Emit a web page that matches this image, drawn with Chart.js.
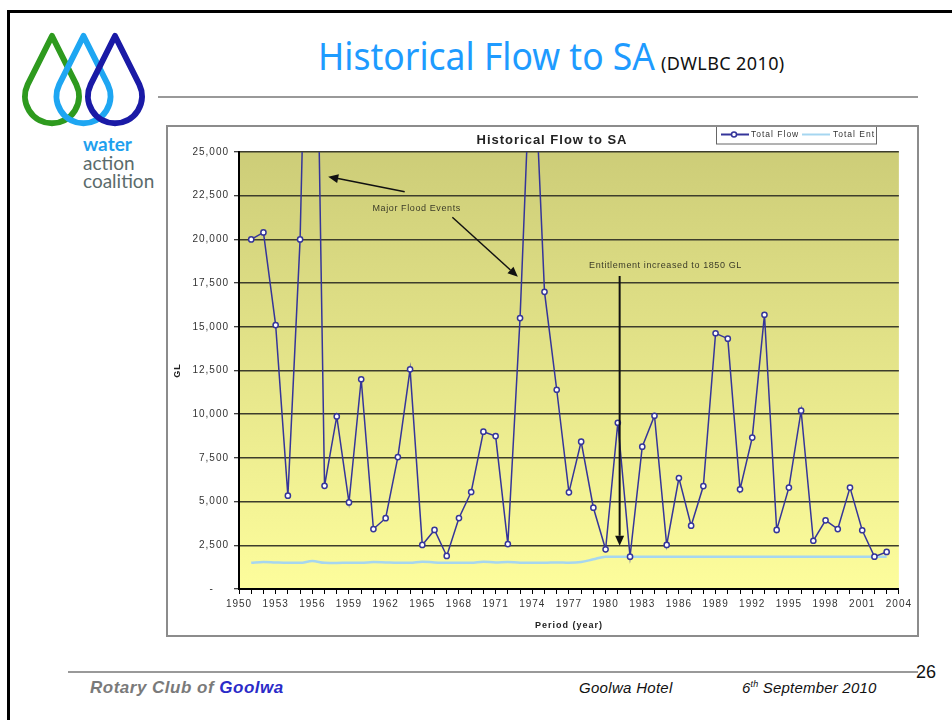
<!DOCTYPE html>
<html>
<head>
<meta charset="utf-8">
<title>Historical Flow to SA</title>
<script src="https://cdn.jsdelivr.net/npm/chart.js@4.4.1/dist/chart.umd.min.js"></script>
<style>
  html, body { margin: 0; padding: 0; background: #fff; }
  .slide { position: relative; width: 952px; height: 720px; overflow: hidden; font-family: "Liberation Sans", Arial, sans-serif; }
  .frame-top { position: absolute; left: 7px; top: 10px; width: 945px; height: 3px; background: #000; }
  .frame-left { position: absolute; left: 7px; top: 10px; width: 3px; height: 710px; background: #000; }
  .logo { position: absolute; left: 0; top: 0; }
  .brand { position: absolute; left: 83px; font-family: Lato, "Open Sans", sans-serif; font-size: 19px; line-height: 19px; color: #5b6b6b; }
  .brand.water { color: #1ea0ee; font-weight: bold; }
  .heading { position: absolute; left: 318px; top: 36px; white-space: nowrap; line-height: 1; transform-origin: 0 0; }
  .heading .main { font-family: "Noto Sans", sans-serif; font-size: 38px; color: #1e9bff; }
  .heading .src { font-family: "Noto Sans", sans-serif; font-size: 18px; color: #111; margin-left: 6px; letter-spacing: 0.4px; }
  .rule { position: absolute; height: 2px; background: #999; }
  .chart-box { position: absolute; left: 166px; top: 125px; width: 753px; height: 512px; box-sizing: border-box; border: 2px solid #8c8c8c; }
  .chart-wrap { position: absolute; left: 168px; top: 127px; width: 748px; height: 507px; }
  .foot { position: absolute; white-space: nowrap; font-style: italic; }
  .club { left: 90px; top: 678px; font-size: 17px; font-weight: bold; color: #7a7a7a; letter-spacing: 0.5px; }
  .club b { color: #2b2bc8; }
  .venue { left: 579px; top: 679px; font-size: 15px; color: #111; letter-spacing: 0.3px; }
  .date { left: 742px; top: 679px; font-size: 15px; color: #111; letter-spacing: 0.2px; }
  .date sup { font-size: 9px; }
  .page { position: absolute; left: 916px; top: 662px; font-size: 18px; color: #111; }
</style>
</head>
<body>
<div class="slide">
  <div class="frame-top"></div>
  <div class="frame-left"></div>

  <svg class="logo" width="160" height="135" viewBox="0 0 160 135">
    <path d="M52,36 L76.3,84.5 A27,27 0 1 1 27.7,84.5 Z" fill="none" stroke="#2e9a1e" stroke-width="6" stroke-linejoin="round"/>
    <path d="M83.5,36 L107.8,84.5 A27,27 0 1 1 59.2,84.5 Z" fill="none" stroke="#1ea6f2" stroke-width="6" stroke-linejoin="round"/>
    <path d="M115,36 L139.3,84.5 A27,27 0 1 1 90.7,84.5 Z" fill="none" stroke="#1a1aa6" stroke-width="6" stroke-linejoin="round"/>
  </svg>
  <div class="brand water" style="top:134px">water</div>
  <div class="brand" style="top:153px">action</div>
  <div class="brand" style="top:171px">coalition</div>

  <div class="heading" id="heading"><span class="main">Historical Flow to SA</span><span class="src">(DWLBC 2010)</span></div>
  <div class="rule" style="left:158px; top:96px; width:760px;"></div>

  <div class="chart-box"></div>
  <div class="chart-wrap"><canvas id="flowChart" width="748" height="507"></canvas></div>

  <div class="rule" style="left:68px; top:671px; width:850px;"></div>
  <div class="foot club">Rotary Club of <b>Goolwa</b></div>
  <div class="foot venue">Goolwa Hotel</div>
  <div class="foot date">6<sup>th</sup> September 2010</div>
  <div class="page">26</div>
</div>

<script>
const years = [
  1951, 1952, 1953, 1954, 1955, 1956, 1957, 1958, 1959, 1960,
  1961, 1962, 1963, 1964, 1965, 1966, 1967, 1968, 1969, 1970,
  1971, 1972, 1973, 1974, 1975, 1976, 1977, 1978, 1979, 1980,
  1981, 1982, 1983, 1984, 1985, 1986, 1987, 1988, 1989, 1990,
  1991, 1992, 1993, 1994, 1995, 1996, 1997, 1998, 1999, 2000,
  2001, 2002, 2003
];

// GL per year; 1956 and 1974 run off the top of the axis
const totalFlow = [
  20000, 20400, 15100, 5340, 20000, 50000, 5900, 9870, 4950, 12000,
  3430, 4050, 7550, 12570, 2520, 3380, 1890, 4060, 5550, 9000,
  8750, 2570, 15500, 33000, 17000, 11400, 5530, 8430, 4650, 2270,
  9510, 1850, 8140, 9910, 2520, 6350, 3620, 5890, 14630, 14320,
  5700, 8660, 15690, 3380, 5800, 10200, 2760, 3930, 3430, 5800,
  3360, 1850, 2120
];

const totalEnt = [
  1500, 1550, 1520, 1500, 1500, 1600, 1500, 1490, 1500, 1500,
  1540, 1520, 1500, 1500, 1560, 1520, 1500, 1500, 1500, 1560,
  1520, 1550, 1500, 1500, 1500, 1520, 1500, 1540, 1700, 1850,
  1850, 1850, 1850, 1850, 1850, 1850, 1850, 1850, 1850, 1850,
  1850, 1850, 1850, 1850, 1850, 1850, 1850, 1850, 1850, 1850,
  1850, 1850, 1850
];

const xTicks = { min: 1950, max: 2004, step: 1, labelEvery: 3 };
const yTicks = { min: 0, max: 25000, step: 2500 };

// annotation anchors in (year, GL)
const arrows = [
  { from: [1963.56, 22730], to: [1957.3, 23590], width: 1.5 },
  { from: [1967.46, 21265], to: [1972.82, 17866], width: 1.5 },
  { from: [1981.15, 17906], to: [1981.15, 2480], width: 2 }
];
const notes = [
  { text: "Major Flood Events", at: [1964.54, 21740] },
  { text: "Entitlement increased to 1850 GL", at: [1984.9, 18480] }
];

const FONT = '"Liberation Sans", Arial, sans-serif';
Chart.defaults.font.family = FONT;
Chart.defaults.color = "#333";

const spacing = {
  id: "spacing",
  beforeLayout(chart) { chart.ctx.letterSpacing = "1px"; },
  beforeDraw(chart) { chart.ctx.letterSpacing = "1px"; }
};

const plotBackground = {
  id: "plotBackground",
  beforeDraw(chart) {
    const { ctx, chartArea: a } = chart;
    const g = ctx.createLinearGradient(0, a.top, 0, a.bottom);
    g.addColorStop(0, "#cdcd78");
    g.addColorStop(1, "#fdfd9c");
    ctx.save();
    ctx.fillStyle = g;
    ctx.fillRect(a.left, a.top, a.right - a.left, a.bottom - a.top);
    ctx.restore();
  }
};

const annotations = {
  id: "annotations",
  afterDatasetsDraw(chart) {
    const { ctx, scales: { x, y } } = chart;
    const px = (p) => [x.getPixelForValue(p[0]), y.getPixelForValue(p[1])];
    ctx.save();
    ctx.strokeStyle = "#111";
    ctx.fillStyle = "#111";
    arrows.forEach((a) => {
      const [x0, y0] = px(a.from);
      const [x1, y1] = px(a.to);
      const ang = Math.atan2(y1 - y0, x1 - x0);
      const head = 10, half = 4.5;
      const bx = x1 - head * Math.cos(ang);
      const by = y1 - head * Math.sin(ang);
      ctx.lineWidth = a.width;
      ctx.beginPath();
      ctx.moveTo(x0, y0);
      ctx.lineTo(bx, by);
      ctx.stroke();
      ctx.beginPath();
      ctx.moveTo(x1, y1);
      ctx.lineTo(bx + half * Math.sin(ang), by - half * Math.cos(ang));
      ctx.lineTo(bx - half * Math.sin(ang), by + half * Math.cos(ang));
      ctx.closePath();
      ctx.fill();
    });
    ctx.font = "9px " + FONT;
    ctx.letterSpacing = "0.6px";
    ctx.fillStyle = "#3b3b28";
    ctx.textAlign = "center";
    ctx.textBaseline = "middle";
    notes.forEach((n) => {
      const [tx, ty] = px(n.at);
      ctx.fillText(n.text, tx, ty);
    });
    ctx.restore();
  }
};

const titleAndLegend = {
  id: "titleAndLegend",
  afterDraw(chart) {
    const { ctx } = chart;
    const [flow, ent] = chart.data.datasets;
    ctx.save();
    ctx.letterSpacing = "1px";
    ctx.fillStyle = "#222";
    ctx.font = "bold 13px " + FONT;
    ctx.textAlign = "center";
    ctx.textBaseline = "middle";
    ctx.fillText("Historical Flow to SA", 384, 13);

    // legend box
    ctx.fillStyle = "#fff";
    ctx.fillRect(548, 0, 160, 17);
    ctx.strokeStyle = "#666";
    ctx.lineWidth = 1;
    ctx.strokeRect(548.5, -1, 160, 18);
    ctx.strokeStyle = flow.borderColor;
    ctx.lineWidth = 2;
    ctx.beginPath(); ctx.moveTo(553, 7.5); ctx.lineTo(581, 7.5); ctx.stroke();
    ctx.fillStyle = "#fff";
    ctx.lineWidth = 1.5;
    ctx.beginPath(); ctx.arc(566, 7.5, 2.5, 0, Math.PI * 2); ctx.fill(); ctx.stroke();
    ctx.strokeStyle = ent.borderColor;
    ctx.lineWidth = 2;
    ctx.beginPath(); ctx.moveTo(634, 7.5); ctx.lineTo(662, 7.5); ctx.stroke();
    ctx.fillStyle = "#333";
    ctx.font = "8.5px " + FONT;
    ctx.textAlign = "left";
    ctx.fillText(flow.label, 583, 8);
    ctx.fillText(ent.label, 665, 8);
    ctx.restore();
  }
};

new Chart(document.getElementById("flowChart"), {
  type: "line",
  data: {
    datasets: [{
      label: "Total Flow",
      data: years.map((yr, i) => ({ x: yr, y: totalFlow[i] })),
      borderColor: "#35359a",
      borderWidth: 1.5,
      pointRadius: 2.6,
      pointBackgroundColor: "#fff",
      pointBorderColor: "#35359a",
      pointBorderWidth: 1.5,
      tension: 0,
      order: 1
    }, {
      label: "Total Ent",
      data: years.map((yr, i) => ({ x: yr, y: totalEnt[i] })),
      borderColor: "#a6d6f0",
      borderWidth: 2.5,
      pointRadius: 0,
      cubicInterpolationMode: "monotone",
      order: 2
    }]
  },
  options: {
    responsive: false,
    animation: false,
    layout: { padding: { top: 25, right: 16, left: 0, bottom: 0 } },
    plugins: { legend: { display: false }, title: { display: false }, tooltip: { enabled: false } },
    scales: {
      x: {
        type: "linear",
        min: xTicks.min,
        max: xTicks.max,
        afterFit: (scale) => { scale.height = 45; },
        border: { display: true, color: "#000", width: 2 },
        grid: { drawOnChartArea: false, drawTicks: true, tickLength: 5, tickColor: "#000", tickWidth: 1 },
        ticks: {
          stepSize: xTicks.step,
          autoSkip: false,
          maxRotation: 0,
          padding: 4,
          color: "#333",
          font: { size: 10 },
          callback: (v) => ((v - xTicks.min) % xTicks.labelEvery === 0 ? String(v) : "")
        },
        title: { display: true, text: "Period (year)", color: "#222", font: { size: 9, weight: "bold" }, padding: { top: 0, bottom: 3 } }
      },
      y: {
        min: yTicks.min,
        max: yTicks.max,
        afterFit: (scale) => { scale.width = 71; },
        border: { display: true, color: "#000", width: 2 },
        grid: { color: "#3d3d2c", lineWidth: 1.5, tickLength: 5, tickColor: "#000", tickWidth: 1 },
        ticks: {
          stepSize: yTicks.step,
          padding: 5,
          color: "#333",
          font: { size: 10 },
          callback: (v) => (v === 0 ? "-    " : v.toLocaleString("en-US"))
        },
        title: { display: true, text: "GL", color: "#222", font: { size: 9, weight: "bold" }, padding: { top: 4, bottom: 0 } }
      }
    }
  },
  plugins: [spacing, plotBackground, annotations, titleAndLegend]
});

// squeeze the slide heading to the width it has on the original slide
const heading = document.querySelector("#heading .main");
const w = heading.getBoundingClientRect().width;
heading.style.display = "inline-block";
heading.style.transformOrigin = "0 100%";
heading.style.transform = "scaleX(" + (337 / w).toFixed(3) + ")";
heading.style.marginRight = (337 - w) + "px";
</script>
</body>
</html>
